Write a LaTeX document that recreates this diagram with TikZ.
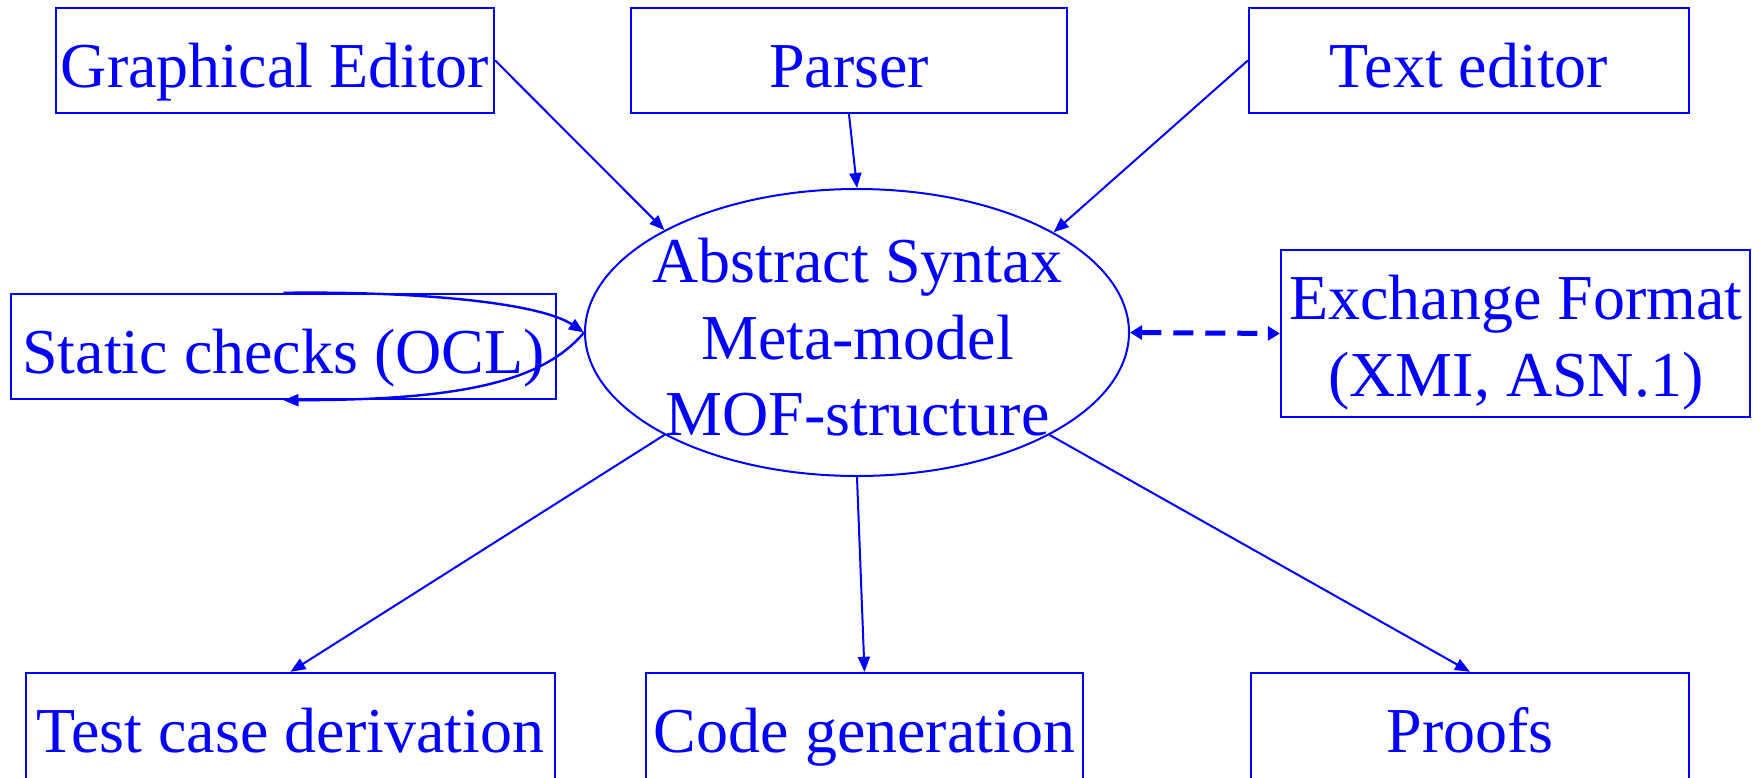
\documentclass[tikz,border=0pt]{standalone}
\usepackage{fontspec}
\setmainfont{Liberation Serif}
\usetikzlibrary{arrows.meta,shapes.geometric}
\begin{document}
\begin{tikzpicture}[x=0.5pt,y=-0.5pt,
  every node/.style={text=blue, font=\fontsize{32}{38.4}\selectfont},
  box/.style={draw=blue, line width=1.2pt, rectangle, inner sep=0pt,
    text height=39.5pt, text depth=13pt, minimum height=52.5pt},
  lowbox/.style={box, text depth=16pt},
  frame/.style={draw=blue, line width=1.2pt, rectangle, inner sep=0pt},
  oval/.style={draw=blue, ellipse, line width=1pt, inner sep=0pt},
  conn/.style={draw=blue, line width=1pt, -{Triangle[length=7.5pt,width=6pt]}},
  loopconn/.style={draw=blue, line width=1.2pt, -{Triangle[length=7.5pt,width=6pt]}},
  dasharrow/.style={draw=blue, line width=2.5pt, dash pattern=on 10pt off 6pt,
    {Triangle[length=6pt,width=7pt]}-{Triangle[length=6pt,width=7pt]}}]
\useasboundingbox (0,0) rectangle (1762,777);

\node[box, minimum width=219pt] (ge) at (275,60.5) {Graphical Editor};
\node[box, minimum width=218pt] (pa) at (849,60.5) {Parser};
\node[box, minimum width=220pt] (te) at (1469,60.5) {Text editor};
\node[box, minimum width=272.5pt] (st) at (283.5,346.5) {Static checks (OCL)};
\node[lowbox, minimum width=264.5pt] (tc) at (290.5,728.5) {Test case derivation};
\node[lowbox, minimum width=218.5pt] (cg) at (864.5,728.5) {Code generation};
\node[lowbox, minimum width=219pt] (pr) at (1470,728.5) {Proofs};

\node[frame, minimum width=234.5pt, minimum height=83.5pt] (ex) at (1515.5,333.5) {};
\node[align=center] (ext) at (1516,342.3) {Exchange Format\\(XMI, ASN.1)};

\node[oval, minimum width=272pt, minimum height=143.5pt] (abs) at (857,332.5) {};
\node[align=center] (abt) at (857.5,337.3) {Abstract Syntax\\Meta-model\\MOF-structure};

\draw[conn] (ge.east) -- (abs.152);
\draw[conn] (pa.south) -- (abs.north);
\draw[conn] (te.west) -- (abs.27.4);
\draw[conn] (abs.208) -- (tc.north);
\draw[conn] (abs.south) -- (cg.north);
\draw[conn] (abs.332) -- (pr.north);
\draw[dasharrow] (abs.east) -- (ex.west);
\draw[loopconn] (st.north) .. controls (420,291) and (540,303) .. (abs.west);
\draw[loopconn] (abs.west) .. controls (540,385) and (450,400) .. (st.south);
\end{tikzpicture}
\end{document}
